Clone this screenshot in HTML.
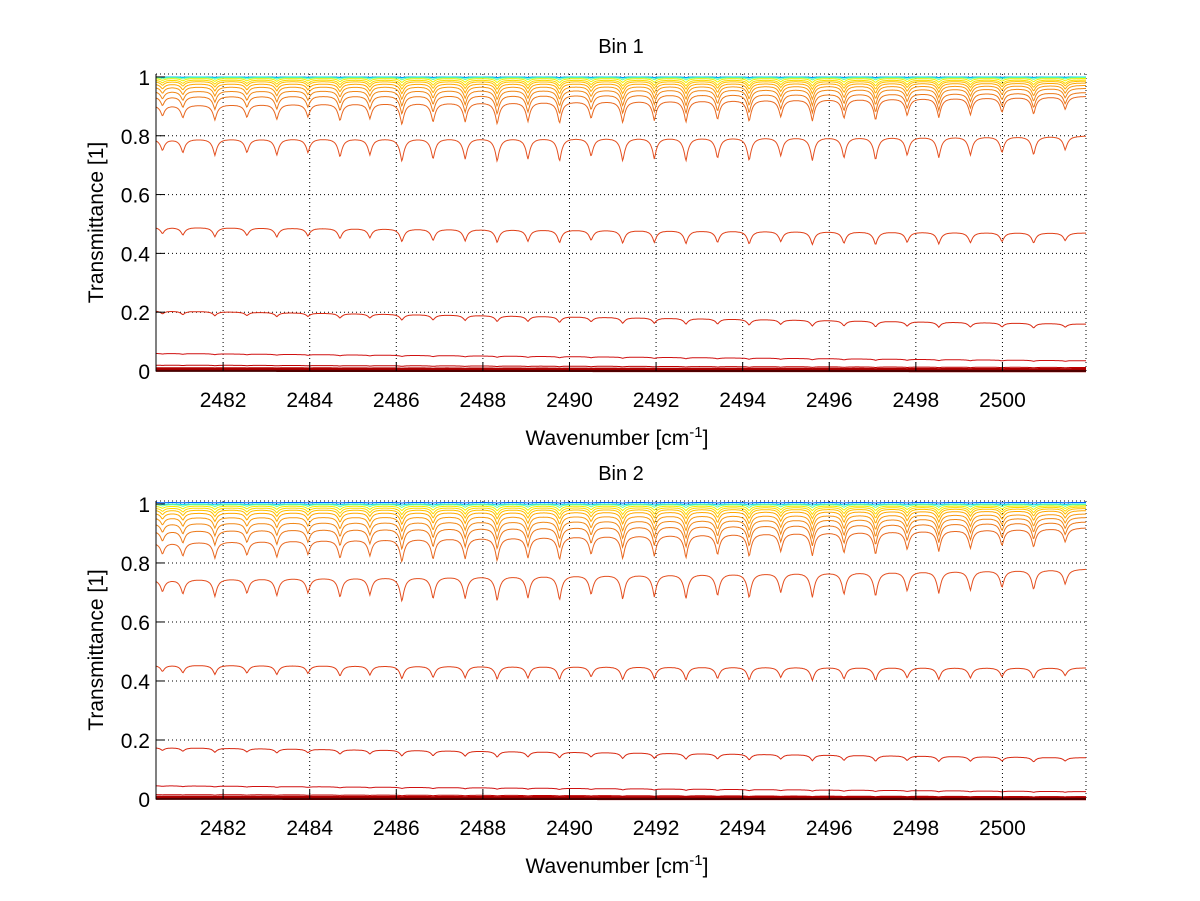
<!DOCTYPE html>
<html><head><meta charset="utf-8">
<style>
html,body{margin:0;padding:0;background:#fff;}
svg{display:block;font-family:"Liberation Sans",sans-serif;}
</style></head>
<body>
<svg id="fig" width="1200" height="901" viewBox="0 0 1200 901"></svg>
<script>
// ---- data ----
const xTicks = [2482,2484,2486,2488,2490,2492,2494,2496,2498,2500];
const yTicks = [0,0.2,0.4,0.6,0.8,1];
const yTickLabels = ["0","0.2","0.4","0.6","0.8","1"];
const dipCenters = [2480.6,2481.07,2481.81,2482.55,2483.24,2483.96,2484.70,2485.39,2486.13,2486.85,2487.59,2488.33,2489.04,2489.77,2490.50,2491.23,2491.96,2492.69,2493.42,2494.15,2494.88,2495.61,2496.34,2497.07,2497.80,2498.53,2499.26,2499.99,2500.72,2501.45];
const dipStrength = [0.5,0.6,0.7,0.6,0.7,0.6,0.8,0.7,1.0,0.9,0.9,1.0,0.9,1.0,0.8,1.0,0.9,1.0,0.9,1.0,0.8,1.0,0.9,1.0,0.8,0.9,0.8,0.7,0.8,0.6];
const curveColors = ["#0060ff","#00d8f0","#70ff90","#f0f000","#ffd800","#ffbf00","#ffa800","#f89810","#f08818","#ec7818","#e86820","#e45020","#e04018","#d82810","#d01010","#c00000","#b00000","#a00000"];
// bin 1 curves: left baseline, right baseline, dip depth
const bin1Left  = [1.0,1.0,0.998,0.995,0.99,0.985,0.977,0.967,0.953,0.935,0.905,0.79,0.49,0.205,0.06,0.02,0.008,0.002];
const bin1Right = [1.0,1.0,0.998,0.995,0.99,0.986,0.98,0.972,0.962,0.948,0.935,0.80,0.47,0.16,0.035,0.012,0.005,0.001];
const bin1Depth = [0.002,0.004,0.008,0.014,0.02,0.027,0.035,0.045,0.055,0.065,0.075,0.08,0.045,0.02,0.004,0.002,0.001,0];
// bin 2 curves
const bin2Left  = [1.005,1.0,0.998,0.993,0.987,0.98,0.97,0.955,0.935,0.91,0.87,0.745,0.455,0.175,0.045,0.015,0.006,0.002];
const bin2Right = [1.005,1.0,0.998,0.994,0.99,0.985,0.978,0.967,0.955,0.94,0.92,0.78,0.445,0.14,0.025,0.008,0.004,0.001];
const bin2Depth = [0.002,0.004,0.01,0.016,0.024,0.032,0.042,0.052,0.062,0.072,0.08,0.085,0.045,0.02,0.004,0.002,0.001,0];

const NS="http://www.w3.org/2000/svg";
const svg=document.getElementById('fig');
function mk(tag,attrs,parent){const e=document.createElementNS(NS,tag);for(const k in attrs)e.setAttribute(k,attrs[k]);(parent||svg).appendChild(e);return e;}
const XMIN=2480.45, XMAX=2501.93, L=156, R=1086;

function panel(title, top, bottom, lefts, rights, depths, idx){
  const yTop=top, y0=bottom, y1=bottom-(bottom-top)/1.01;
  const sx=v=>L+(v-XMIN)/(XMAX-XMIN)*(R-L);
  const sy=v=>y0-(v)*(y0-y1);
  const g=mk('g',{});
  
  
  xTicks.forEach(t=>{const l=mk('line',{x1:sx(t),x2:sx(t),y1:yTop,y2:y0,stroke:'#000','stroke-width':1,'stroke-dasharray':'1,3'},g);
    });
  yTicks.forEach(t=>{if(t===0)return;const l=mk('line',{x1:L,x2:R,y1:sy(t),y2:sy(t),stroke:'#000','stroke-width':1,'stroke-dasharray':'1,3'},g);
    });
  mk('line',{x1:L,x2:R,y1:yTop,y2:yTop,stroke:'#000','stroke-width':1,'stroke-dasharray':'1,3'},g);
  mk('line',{x1:R,x2:R,y1:yTop,y2:y0,stroke:'#000','stroke-width':1,'stroke-dasharray':'1,3'},g);
  const N=1200;
  for(let c=0;c<lefts.length;c++){
    let pts=[];
    for(let i=0;i<=N;i++){
      const x=XMIN+(XMAX-XMIN)*i/N;
      const f=(x-XMIN)/(XMAX-XMIN);
      let p=0;
      for(let k=0;k<dipCenters.length;k++){const d=Math.abs(x-dipCenters[k])/0.07;p+=dipStrength[k]/(1+d*d*0.8+d*0.6);}
      let v=lefts[c]+(rights[c]-lefts[c])*f-depths[c]*p;
      if(v>1.012)v=1.012;
      pts.push(sx(x).toFixed(1)+','+sy(v).toFixed(1));
    }
    const pl=mk('polyline',{points:pts.join(' '),fill:'none',stroke:curveColors[c],'stroke-width':c>=16?3:1},g);
    
    
  }
  const ax=mk('path',{d:`M${L},${yTop}V${y0}H${R}`,fill:'none',stroke:'#000','stroke-width':1},g);
  
  xTicks.forEach(t=>{mk('line',{x1:sx(t),x2:sx(t),y1:y0,y2:y0-9,stroke:'#000'},g);
    const tx=mk('text',{x:sx(t),y:y0+36,'text-anchor':'middle','font-size':21},g);tx.textContent=t;
    });
  yTicks.forEach((t,i)=>{mk('line',{x1:L,x2:L+9,y1:sy(t),y2:sy(t),stroke:'#000'},g);
    const tx=mk('text',{x:L-6,y:sy(t)+8,'text-anchor':'end','font-size':21},g);tx.textContent=yTickLabels[i];
    });
  const ti=mk('text',{x:621,y:yTop-21,'text-anchor':'middle','font-size':20},g);ti.textContent=title;
  
  const yl=mk('text',{x:0,y:0,'text-anchor':'middle','font-size':21,transform:`translate(103,${(yTop+y0)/2}) rotate(-90)`},g);yl.textContent='Transmittance [1]';
  
  const xl=mk('text',{x:617,y:y0+74,'text-anchor':'middle','font-size':21},g);
  xl.innerHTML='Wavenumber [cm<tspan dy="-8" font-size="15">-1</tspan><tspan dy="8">]</tspan>';
  
}
panel('Bin 1',74,371,bin1Left,bin1Right,bin1Depth,1);
panel('Bin 2',501,799,bin2Left,bin2Right,bin2Depth,2);
</script>
</body></html>
